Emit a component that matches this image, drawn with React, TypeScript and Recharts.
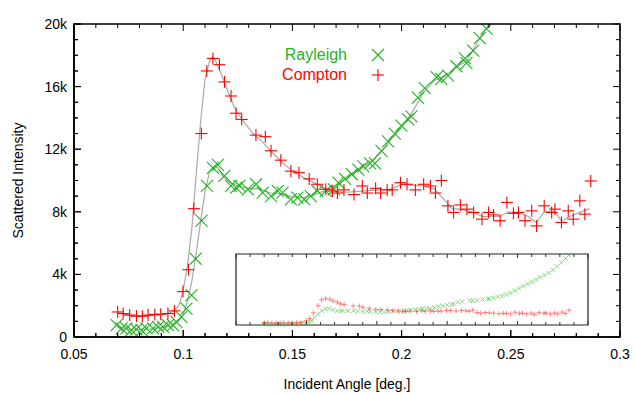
import React from 'react';
import { ComposedChart, Line, Scatter, XAxis, YAxis, ReferenceArea } from 'recharts';

const FONT = '"Liberation Sans", Arial, sans-serif';
const GREEN = '#1db41d';
const RED = '#ff0000';
const FIT = '#a9a9a9';

// axis ticks
const xMajorTicks = [0.05, 0.1, 0.15, 0.2, 0.25, 0.3];
const xTickLabels = ['0.05', '0.1', '0.15', '0.2', '0.25', '0.3'];
const xAllTicks = Array.from({ length: 26 }, (_, i) => Math.round((0.05 + i * 0.01) * 100) / 100);
const yMajorTicks = [0, 4000, 8000, 12000, 16000, 20000];
const yTickLabels = ['0', '4k', '8k', '12k', '16k', '20k'];
const yAllTicks = Array.from({ length: 21 }, (_, i) => i * 1000);
const insetYMax = 48000;

// Compton (+) measured points
const comptonAngle = [
  0.07, 0.0725, 0.0755, 0.0786, 0.0813, 0.0839, 0.087, 0.0897, 0.093, 0.096,
  0.0999, 0.1024, 0.1049, 0.1083, 0.1108, 0.1136, 0.1166, 0.1189, 0.1219, 0.1242,
  0.1268, 0.1333, 0.1376, 0.1402, 0.1447, 0.1493, 0.153, 0.1577, 0.1614, 0.1653,
  0.1683, 0.1706, 0.1736, 0.1782, 0.182, 0.1843, 0.1881, 0.1904, 0.1934, 0.1957,
  0.1995, 0.2025, 0.2063, 0.2101, 0.2132, 0.2155, 0.2182, 0.2212, 0.2238, 0.2269,
  0.2299, 0.233, 0.2368, 0.2398, 0.2421, 0.2451, 0.2482, 0.2512, 0.2535, 0.2565,
  0.2596, 0.2618, 0.2653, 0.2687, 0.2702, 0.2732, 0.2763, 0.2786, 0.2816, 0.2839,
  0.2866,
];
const comptonCounts = [
  1600, 1500, 1400, 1330, 1330, 1400, 1440, 1460, 1500, 1670,
  2900, 4300, 8200, 13000, 17000, 17800, 17400, 16300, 15400, 14300,
  13900, 12900, 12800, 11900, 11300, 10600, 10500, 10100, 9760, 9440,
  9330, 9200, 9400, 9100, 9650, 9200, 9500, 9200, 9400, 9400,
  9860, 9760, 9400, 9760, 9650, 9200, 10000, 8380, 7960, 8440,
  8170, 7960, 7530, 7960, 7800, 7430, 8600, 7900, 7960, 7430,
  8060, 7100, 8380, 7960, 8170, 7320, 8060, 7530, 8700, 7850,
  9970,
];

// Rayleigh (x) measured points, the tail above 20k only shows in the inset
const rayleighAngle = [
  0.0695, 0.0718, 0.074, 0.0763, 0.0786, 0.0809, 0.0832, 0.0862, 0.0885, 0.0908,
  0.093, 0.0953, 0.0969, 0.0992, 0.1015, 0.1038, 0.1057, 0.1084, 0.1109, 0.1136,
  0.1159, 0.1189, 0.1219, 0.1242, 0.1258, 0.1296, 0.1334, 0.1364, 0.1402, 0.1433,
  0.1455, 0.1493, 0.1523, 0.1554, 0.1584, 0.1614, 0.1653, 0.169, 0.1711, 0.1741,
  0.1772, 0.1802, 0.1825, 0.1856, 0.1878, 0.1908, 0.1938, 0.1969, 0.1999, 0.203,
  0.2045, 0.2075, 0.2106, 0.216, 0.2182, 0.2213, 0.2251, 0.229, 0.2297, 0.2328,
  0.2358, 0.2389, 0.242, 0.245, 0.248, 0.251, 0.254, 0.257, 0.26, 0.263,
  0.266, 0.269, 0.272, 0.275, 0.278, 0.281, 0.284, 0.2865,
];
const rayleighCounts = [
  760, 550, 550, 440, 490, 440, 550, 550, 650, 650,
  760, 760, 970, 1290, 1820, 2670, 5000, 7430, 9650, 10800,
  11000, 10300, 9650, 9540, 9650, 9440, 9760, 9230, 9000, 9330,
  9230, 8800, 8900, 8800, 9000, 9330, 9330, 9440, 9860, 10100,
  10400, 10700, 10900, 11100, 11100, 11900, 12500, 13000, 13500, 13900,
  14100, 15300, 15900, 16600, 16500, 16700, 17300, 17800, 17500, 18300,
  19100, 19700, 20600, 21800, 23200, 24800, 26300, 27800, 29200, 30600,
  32200, 33600, 35200, 37200, 39600, 42200, 45000, 47200,
];

// grey fitted curves
const comptonFitAngle = [
  0.07, 0.075, 0.08, 0.085, 0.09, 0.095, 0.098, 0.1, 0.102, 0.104,
  0.106, 0.108, 0.11, 0.1125, 0.1135, 0.115, 0.118, 0.121, 0.124, 0.128,
  0.132, 0.136, 0.14, 0.145, 0.15, 0.155, 0.16, 0.165, 0.17, 0.175,
  0.18, 0.185, 0.19, 0.195, 0.2, 0.205, 0.21, 0.215, 0.22, 0.223,
  0.227, 0.232, 0.237, 0.241, 0.245, 0.249, 0.2535, 0.258, 0.2618, 0.2653,
  0.27, 0.2732, 0.277, 0.2805, 0.286,
];
const comptonFitCounts = [
  1550, 1400, 1330, 1380, 1420, 1600, 2000, 3000, 4600, 7000,
  10500, 13800, 16500, 17800, 17900, 17600, 16600, 15500, 14500, 13700,
  13000, 12500, 11900, 11200, 10600, 10200, 9850, 9500, 9300, 9250,
  9300, 9350, 9400, 9450, 9750, 9700, 9650, 9450, 8700, 8200,
  8150, 8000, 7700, 7700, 7700, 8000, 7950, 7700, 7300, 8000,
  8050, 7400, 7700, 7900, 8200,
];
const rayleighFitAngle = [
  0.07, 0.075, 0.08, 0.085, 0.09, 0.095, 0.098, 0.1, 0.102, 0.104,
  0.106, 0.108, 0.11, 0.112, 0.114, 0.116, 0.118, 0.121, 0.125, 0.13,
  0.135, 0.14, 0.145, 0.15, 0.155, 0.16, 0.165, 0.17, 0.175, 0.18,
  0.185, 0.19, 0.195, 0.2, 0.205, 0.21, 0.215, 0.22, 0.225, 0.23,
  0.235, 0.24,
];
const rayleighFitCounts = [
  650, 500, 480, 520, 620, 780, 1050, 1450, 2300, 3600,
  5400, 7400, 9300, 10500, 10900, 10800, 10300, 9900, 9650, 9500,
  9450, 9200, 9150, 8950, 8900, 9100, 9350, 9700, 10200, 10700,
  11100, 11700, 12600, 13400, 14400, 15600, 16400, 16700, 17200, 17700,
  18900, 20000,
];

const pts = (xs: number[], ys: number[]) => xs.map((x, i) => ({ x, y: ys[i] }));
const compton = pts(comptonAngle, comptonCounts);
const rayleigh = pts(rayleighAngle, rayleighCounts);
const comptonFit = pts(comptonFitAngle, comptonFitCounts);
const rayleighFit = pts(rayleighFitAngle, rayleighFitCounts);

// layout in pixels: main plot box and the inset box inside it
const W = 635;
const H = 394;
const PLOT = { left: 74, top: 24, right: 620, bottom: 337 };
const INSET = { left: 236, top: 254, right: 588, bottom: 325 };

// the inset gets its own hidden axes whose domains map 0.05..0.3 / 0..insetYMax onto the inset box
const ixPerPx = 0.25 / (INSET.right - INSET.left);
const ixDomain = [
  0.05 - (INSET.left - PLOT.left) * ixPerPx,
  0.05 + (PLOT.right - INSET.left) * ixPerPx,
];
const iyPerPx = insetYMax / (INSET.bottom - INSET.top);
const iyDomain = [
  -(PLOT.bottom - INSET.bottom) * iyPerPx,
  (INSET.bottom - PLOT.top) * iyPerPx,
];

const near = (a: number, b: number) => Math.abs(a - b) < 1e-6;
const xLabel = (v: number) => {
  const i = xMajorTicks.findIndex((m) => near(m, v));
  return i < 0 ? null : xTickLabels[i];
};
const yLabel = (v: number) => {
  const i = yMajorTicks.findIndex((m) => near(m, v));
  return i < 0 ? null : yTickLabels[i];
};

const textStyle = { fontFamily: FONT, fontSize: 14, fill: '#000' };

// inward gnuplot-style ticks (filled rects), long ones on labelled values
const makeTick = (side: string, labels: boolean) => (props: any) => {
  const { x, y, payload } = props;
  const v = payload.value;
  const lab = side === 'bottom' || side === 'top' ? xLabel(v) : yLabel(v);
  const len = lab !== null ? 7 : 4;
  let r = { x: x - 0.5, y: y - len, width: 1, height: len };
  if (side === 'top') r = { x: x - 0.5, y, width: 1, height: len };
  else if (side === 'left') r = { x, y: y - 0.5, width: len, height: 1 };
  else if (side === 'right') r = { x: x - len, y: y - 0.5, width: len, height: 1 };
  return (
    <g>
      <rect {...r} fill="#000" />
      {labels && lab !== null && side === 'bottom' && (
        <text x={x} y={y + 17} textAnchor="middle" dominantBaseline="central" style={textStyle}>
          {lab}
        </text>
      )}
      {labels && lab !== null && side === 'left' && (
        <text x={x - 7} y={y} textAnchor="end" dominantBaseline="central" style={textStyle}>
          {lab}
        </text>
      )}
    </g>
  );
};

const crossShape = (half: number, color: string, w: number) => (props: any) => {
  const { cx, cy } = props;
  return (
    <g>
      <line x1={cx - half} y1={cy - half} x2={cx + half} y2={cy + half} stroke={color} strokeWidth={w} />
      <line x1={cx - half} y1={cy + half} x2={cx + half} y2={cy - half} stroke={color} strokeWidth={w} />
    </g>
  );
};
const plusShape = (half: number, color: string, w: number) => (props: any) => {
  const { cx, cy } = props;
  return (
    <g>
      <line x1={cx - half} y1={cy} x2={cx + half} y2={cy} stroke={color} strokeWidth={w} />
      <line x1={cx} y1={cy - half} x2={cx} y2={cy + half} stroke={color} strokeWidth={w} />
    </g>
  );
};

// overlay: border as a filled ring, inward ticks as thin filled rects, and the key
function Frame() {
  const xs = (v: number, box: any) => box.left + ((v - 0.05) / 0.25) * (box.right - box.left);
  const ys = (v: number) => PLOT.bottom - (v / 20000) * (PLOT.bottom - PLOT.top);
  const b = 0.8;
  const ring =
    `M${PLOT.left - b},${PLOT.top - b}H${PLOT.right + b}V${PLOT.bottom + b}H${PLOT.left - b}Z ` +
    `M${PLOT.left + b},${PLOT.top + b}V${PLOT.bottom - b}H${PLOT.right - b}V${PLOT.top + b}Z`;
  const rects: any[] = [];
  xAllTicks.forEach((t) => {
    const len = xLabel(t) !== null ? 7 : 4;
    const x = xs(t, PLOT);
    rects.push([x - 0.5, PLOT.bottom - len, 1, len, '#000']);
    rects.push([x - 0.5, PLOT.top, 1, len, '#000']);
    const il = xLabel(t) !== null ? 4 : 3;
    const ix = xs(t, INSET);
    rects.push([ix - 0.5, INSET.bottom - il, 1, il, '#333']);
    rects.push([ix - 0.5, INSET.top, 1, il, '#333']);
  });
  yAllTicks.forEach((t) => {
    const len = yLabel(t) !== null ? 7 : 4;
    const y = ys(t);
    rects.push([PLOT.left, y - 0.5, len, 1, '#000']);
    rects.push([PLOT.right - len, y - 0.5, len, 1, '#000']);
  });
  return (
    <svg width={W} height={H} style={{ position: 'absolute', left: 0, top: 0, pointerEvents: 'none' }}>
      <path d={ring} fill="#000" fillRule="evenodd" />
      {rects.map((r, i) => (
        <rect key={i} x={r[0]} y={r[1]} width={r[2]} height={r[3]} fill={r[4]} />
      ))}
      <text x={347} y={54} textAnchor="end" dominantBaseline="central" style={{ fontFamily: FONT, fontSize: 16, fill: GREEN }}>
        Rayleigh
      </text>
      {crossShape(6, GREEN, 1.1)({ cx: 378, cy: 55 })}
      <text x={347} y={74} textAnchor="end" dominantBaseline="central" style={{ fontFamily: FONT, fontSize: 16, fill: RED }}>
        Compton
      </text>
      {plusShape(6, RED, 1.1)({ cx: 378, cy: 75 })}
    </svg>
  );
}

const axisCommon = {
  type: 'number' as const,
  allowDataOverflow: true,
  interval: 0,
  tickSize: 0,
  tickMargin: 0,
  tickLine: false,
  axisLine: { stroke: '#000', strokeWidth: 1.6 },
};

export default function App() {
  return (
    <div style={{ position: 'relative', width: W, height: H, background: '#fff' }}>
      <style>{'body{margin:0}'}</style>
      <ComposedChart
        width={W}
        height={H}
        margin={{ top: PLOT.top, right: W - PLOT.right, bottom: 0, left: 0 }}
      >
        <XAxis
          {...axisCommon}
          xAxisId="b"
          dataKey="x"
          domain={[0.05, 0.3]}
          ticks={xAllTicks}
          height={H - PLOT.bottom}
          tick={makeTick('bottom', true)}
          label={{
            content: (p: any) => {
              const vb = p.viewBox;
              return (
                <text x={vb.x + vb.width / 2} y={384} textAnchor="middle" dominantBaseline="central" style={textStyle}>
                  Incident Angle [deg.]
                </text>
              );
            },
          }}
        />
        <XAxis
          {...axisCommon}
          xAxisId="t"
          orientation="top"
          dataKey="x"
          domain={[0.05, 0.3]}
          ticks={xAllTicks}
          height={0}
          tick={makeTick('top', false)}
        />
        <XAxis xAxisId="ix" dataKey="x" type="number" domain={ixDomain} allowDataOverflow hide height={0} />
        <YAxis
          {...axisCommon}
          yAxisId="l"
          dataKey="y"
          domain={[0, 20000]}
          ticks={yAllTicks}
          width={PLOT.left}
          tick={makeTick('left', true)}
          label={{
            content: (p: any) => {
              const vb = p.viewBox;
              return (
                <text
                  transform={`translate(18, ${vb.y + vb.height / 2}) rotate(-90)`}
                  textAnchor="middle"
                  dominantBaseline="central"
                  style={textStyle}
                >
                  Scattered Intensity
                </text>
              );
            },
          }}
        />
        <YAxis
          {...axisCommon}
          yAxisId="r"
          orientation="right"
          dataKey="y"
          domain={[0, 20000]}
          ticks={yAllTicks}
          width={0}
          tick={makeTick('right', false)}
        />
        <YAxis yAxisId="iy" dataKey="y" type="number" domain={iyDomain} allowDataOverflow hide width={0} />

        {/* inset box */}
        <ReferenceArea
          xAxisId="ix"
          yAxisId="iy"
          x1={0.05}
          x2={0.3}
          y1={0}
          y2={insetYMax}
          fill="#fff"
          fillOpacity={0}
          stroke="#222"
          strokeWidth={1.2}
          strokeOpacity={1}
        />

        <Line
          xAxisId="b"
          yAxisId="l"
          data={rayleighFit}
          dataKey="y"
          stroke={FIT}
          strokeWidth={1.2}
          dot={false}
          activeDot={false}
          isAnimationActive={false}
        />
        <Line
          xAxisId="b"
          yAxisId="l"
          data={comptonFit}
          dataKey="y"
          stroke={FIT}
          strokeWidth={1.2}
          dot={false}
          activeDot={false}
          isAnimationActive={false}
        />
        <Scatter
          xAxisId="b"
          yAxisId="l"
          data={rayleigh.filter((p) => p.y <= 20000)}
          dataKey="y"
          shape={crossShape(6, GREEN, 1.1)}
          isAnimationActive={false}
        />
        <Scatter
          xAxisId="b"
          yAxisId="l"
          data={compton}
          dataKey="y"
          shape={plusShape(6, RED, 1.1)}
          isAnimationActive={false}
        />
        <Scatter
          xAxisId="ix"
          yAxisId="iy"
          data={rayleigh}
          dataKey="y"
          shape={crossShape(2.2, 'rgba(40,190,40,0.6)', 0.9)}
          isAnimationActive={false}
        />
        <Scatter
          xAxisId="ix"
          yAxisId="iy"
          data={compton}
          dataKey="y"
          shape={plusShape(2.5, 'rgba(255,40,40,0.6)', 0.9)}
          isAnimationActive={false}
        />
      </ComposedChart>
      <Frame />
    </div>
  );
}
